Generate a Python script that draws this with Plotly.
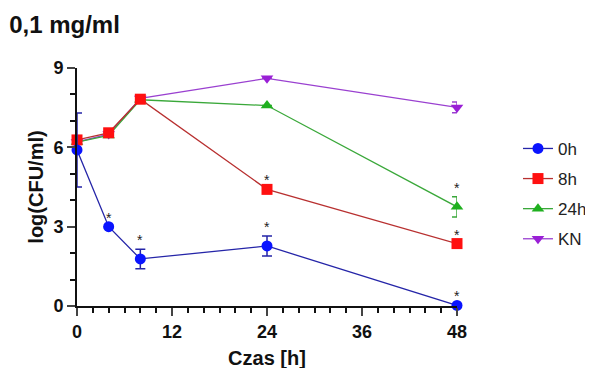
import plotly.graph_objects as go

time_h = [0, 4, 8, 24, 48]
series_names = ["0h", "8h", "24h", "KN"]
y_0h = [5.9, 3.0, 1.78, 2.27, 0.02]
err_0h = [1.4, 0.0, 0.37, 0.38, 0.0]
y_8h = [6.28, 6.55, 7.82, 4.41, 2.36]
err_8h = [0.0, 0.0, 0.0, 0.0, 0.0]
y_24h = [6.2, 6.45, 7.8, 7.58, 3.75]
err_24h = [0.0, 0.0, 0.0, 0.0, 0.38]
y_kn = [6.2, 6.5, 7.85, 8.61, 7.51]
err_kn = [0.0, 0.0, 0.0, 0.0, 0.2]
sig_0h = [False, True, True, True, True]
sig_8h = [False, False, False, True, True]
sig_24h = [False, False, False, False, True]
sig_kn = [False, False, False, False, False]

FONT = "Liberation Sans, Arial"
styles = {
    "0h": dict(marker="#0a14ff", line="#2525a8", symbol="circle", size=11),
    "8h": dict(marker="#ff1010", line="#b83030", symbol="square", size=11),
    "24h": dict(marker="#1fb01f", line="#3aa83a", symbol="triangle-up", size=11),
    "KN": dict(marker="#9a1fd6", line="#9a40d0", symbol="triangle-down", size=11),
}
data = {"0h": (y_0h, err_0h, sig_0h), "8h": (y_8h, err_8h, sig_8h),
        "24h": (y_24h, err_24h, sig_24h), "KN": (y_kn, err_kn, sig_kn)}

fig = go.Figure()
draw_order = ["KN", "24h", "8h", "0h"]
for name in draw_order:
    ys, es, sg = data[name]
    st = styles[name]
    fig.add_trace(go.Scatter(
        x=time_h, y=ys, name=name, mode="lines+markers",
        legendgroup=name, legendrank=series_names.index(name) + 1,
        line=dict(color=st["line"], width=1.3),
        marker=dict(color=st["marker"], symbol=st["symbol"], size=st["size"]),
        error_y=dict(type="data", array=es, visible=True, color=st["line"], thickness=1.5, width=5),
        cliponaxis=False,
    ))
    for x, y, e, s in zip(time_h, ys, es, sg):
        if s:
            fig.add_annotation(x=x, y=y + e, text="*", showarrow=False, yshift=9,
                               font=dict(family=FONT, size=14, color="#222"))

fig.update_layout(
    width=593, height=368,
    margin=dict(l=69, r=144, t=60, b=70),
    paper_bgcolor="white", plot_bgcolor="white",
    title=dict(text="<b>0,1 mg/ml</b>", x=0.002, xanchor="left", y=0.955, yanchor="middle",
               font=dict(family=FONT, size=24, color="#111")),
    font=dict(family=FONT, color="#111"),
    legend=dict(xref="container", yref="container", x=0.86, xanchor="left", y=0.666, yanchor="top",
                font=dict(size=17, color="#222"), itemwidth=30, tracegroupgap=5,
                bgcolor="rgba(0,0,0,0)"),
    showlegend=True,
)
fig.update_xaxes(
    range=[0, 48], tickvals=[0, 12, 24, 36, 48], ticks="outside", ticklen=8, tickwidth=2,
    showline=True, linecolor="#111", linewidth=2, showgrid=False, zeroline=False,
    tickfont=dict(size=18, family=FONT, weight="bold"), automargin=False,
    title=dict(text="<b>Czas [h]</b>", font=dict(size=20), standoff=10),
    minor=dict(dtick=2, ticks="outside", ticklen=5, tickwidth=2, tickcolor="#111", showgrid=False),
)
fig.update_yaxes(
    range=[0, 9], tickvals=[0, 3, 6, 9], ticks="outside", ticklen=8, tickwidth=2,
    showline=True, linecolor="#111", linewidth=2, showgrid=False, zeroline=False,
    tickfont=dict(size=18, family=FONT, weight="bold"), automargin=False,
    title=dict(text="<b>log(CFU/ml)</b>", font=dict(size=20), standoff=4),
    minor=dict(dtick=1, ticks="outside", ticklen=5, tickwidth=2, tickcolor="#111", showgrid=False),
)
fig.write_html("out.html")
